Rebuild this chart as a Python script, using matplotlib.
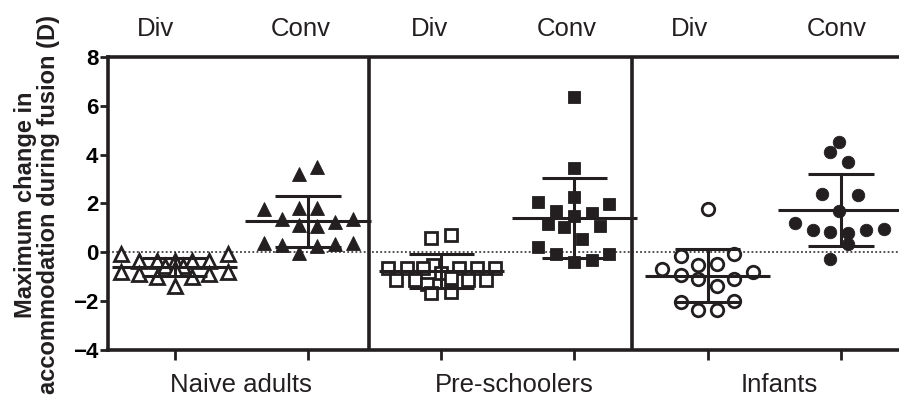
import matplotlib
matplotlib.use("Agg")
import matplotlib.pyplot as plt

plt.rcParams["font.family"] = ["Liberation Sans", "DejaVu Sans"]

# ---------- Data ----------
groups = ["Naive adults", "Pre-schoolers", "Infants"]
conditions = ["Div", "Conv"]

adults_div = [-0.05, -0.05, -0.36, -0.36, -0.36, -0.36, -0.36, -0.56, -0.56,
              -0.8, -0.8, -0.9, -0.9, -1.0, -1.0, -0.7, -1.38]
adults_div_jit = [-0.405, 0.40, -0.27, -0.135, 0.0, 0.13, 0.26, -0.075, 0.06,
                  -0.405, 0.40, -0.27, 0.26, -0.135, 0.13, 0.0, 0.0]

adults_conv = [3.5, 3.2, 1.76, 1.8, 1.8, 1.35, 1.1, 1.08, 1.23, 1.35,
               0.37, 0.29, -0.04, 0.25, 0.33, 0.4]
adults_conv_jit = [0.068, -0.068, -0.33, -0.068, 0.068, -0.195, -0.068, 0.068,
                   0.2, 0.34, -0.33, -0.195, -0.068, 0.068, 0.2, 0.34]

pre_div = [0.6, 0.71, -0.53, -0.65, -0.65, -0.65, -0.65, -0.65, -0.65, -0.85,
           -1.15, -1.15, -1.15, -1.15, -1.05, -1.3, -1.65, -1.62]
pre_div_jit = [-0.075, 0.07, -0.06, -0.40, -0.26, -0.135, 0.135, 0.27, 0.405,
               0.0, -0.34, -0.2, 0.2, 0.34, 0.075, -0.11, -0.075, 0.07]

pre_conv = [6.35, 3.47, 2.28, 2.06, 1.97, 1.69, 1.6, 1.49, 1.15, 1.04, 1.08,
            0.53, 0.22, -0.08, -0.08, -0.4, -0.32]
pre_conv_jit = [0.0, 0.0, 0.0, -0.27, 0.26, -0.135, 0.13, 0.0, -0.2, -0.075,
                0.195, 0.06, -0.27, -0.135, 0.26, 0.0, 0.13]

inf_div = [1.76, -0.15, -0.05, -0.7, -0.93, -0.53, -0.49, -0.79, -1.1, -1.08,
           -1.38, -2.02, -2.0, -2.38, -2.38]
inf_div_jit = [0.0, -0.2, 0.195, -0.34, -0.2, -0.07, 0.07, 0.34, -0.07, 0.195,
               0.07, -0.2, 0.195, -0.07, 0.07]

inf_conv = [4.5, 4.09, 3.7, 2.38, 2.34, 1.69, 1.22, 0.91, 0.83, 0.81, 0.9,
            0.97, 0.33, -0.29]
inf_conv_jit = [-0.015, -0.08, 0.05, -0.14, 0.13, -0.015, -0.345, -0.21,
                -0.08, 0.05, 0.19, 0.32, 0.05, -0.08]

# mean and SD bars as drawn
means = [-0.6, 1.27, -0.78, 1.42, -0.95, 1.73]
sds = [0.38, 1.04, 0.70, 1.64, 1.07, 1.48]

columns = [
    (adults_div, adults_div_jit), (adults_conv, adults_conv_jit),
    (pre_div, pre_div_jit), (pre_conv, pre_conv_jit),
    (inf_div, inf_div_jit), (inf_conv, inf_conv_jit),
]

# ---------- Style ----------
INK = "#231f20"
markers = ["^", "^", "s", "s", "o", "o"]
msizes = [10, 10, 8.5, 8.5, 9, 9]
filled = [False, True, False, True, False, True]
top_shift = [-0.14, -0.05, -0.09, -0.06, -0.135, -0.03]
group_pos = [0.5, 2.55, 4.54]
separators = [1.456, 3.43]

# ---------- Plot ----------
fig = plt.figure(figsize=(8.99, 4.09), dpi=100)
ax = fig.add_axes([0.1201, 0.1443, 0.8799, 0.7164])

ax.axhline(0, color=INK, lw=1.1, ls=(0, (1.2, 1.5)), zorder=1)
for s in separators:
    ax.axvline(s, color=INK, lw=2.6, zorder=1)

for i, (vals, jit) in enumerate(columns):
    xs = [i + j for j in jit]
    ax.plot(xs, vals, ls="none", marker=markers[i], ms=msizes[i],
            mfc=INK if filled[i] else "white", mec=INK,
            mew=0.6 if filled[i] else 2.0, zorder=2)

    m, sd = means[i], sds[i]
    ax.hlines(m, i - 0.47, i + 0.47, color=INK, lw=2.2, zorder=3)
    ax.vlines(i, m - sd, m + sd, color=INK, lw=2.2, zorder=3)
    ax.hlines([m - sd, m + sd], i - 0.245, i + 0.245, color=INK, lw=2.2, zorder=3)

ax.set_xlim(-0.5, 5.435)
ax.set_ylim(-4, 8)
ax.set_yticks([-4, -2, 0, 2, 4, 6, 8])
ax.set_xticks(range(6))
ax.set_xticklabels([])
for lab in ax.get_yticklabels():
    lab.set_fontweight("bold")
ax.tick_params(axis="y", labelsize=16, length=6, width=2, color=INK, pad=1)
ax.tick_params(axis="x", length=7, width=2, color=INK)

for side in ["left", "top", "bottom"]:
    ax.spines[side].set_linewidth(2.6)
    ax.spines[side].set_color(INK)
ax.spines["right"].set_visible(False)

for i in range(6):
    ax.text(i + top_shift[i], 1.097, conditions[i % 2], transform=ax.get_xaxis_transform(),
            ha="center", va="center", fontsize=18.5, color=INK)

for g, x in zip(groups, group_pos):
    ax.text(x, -0.12, g, transform=ax.get_xaxis_transform(),
            ha="center", va="center", fontsize=18.5, color=INK)

fig.text(37 / 899, 0.5, "Maximum change in\naccommodation during fusion (D)",
         rotation=90, ha="center", va="center", multialignment="center",
         fontsize=17, fontweight="bold", color=INK, linespacing=1.05)

fig.savefig("out.png", dpi=100)
